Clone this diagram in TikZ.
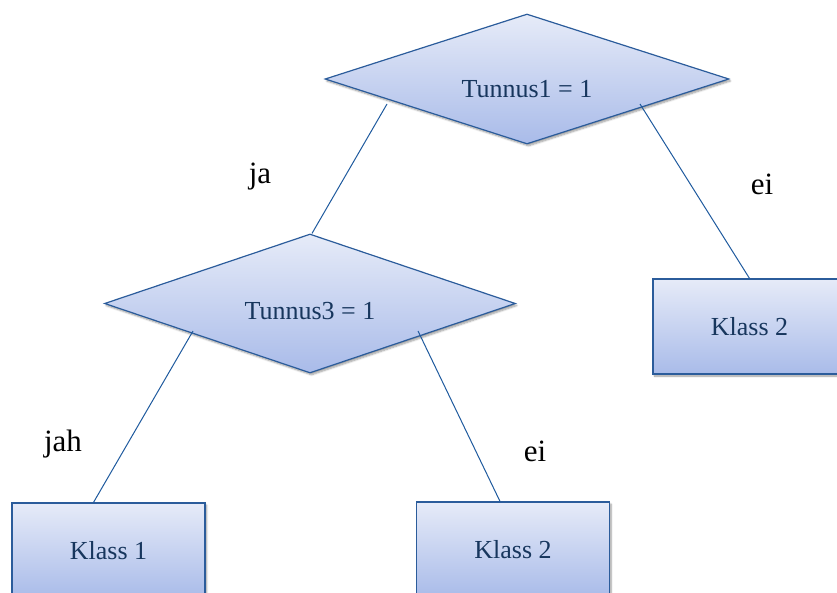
\documentclass[tikz,border=0pt]{standalone}
\usepackage{fontspec}
\setmainfont{Liberation Serif}
\usetikzlibrary{shapes.geometric,shadows.blur,calc}
\definecolor{txtblue}{HTML}{17365D}
\definecolor{edgeblue}{HTML}{2B5C9B}
\definecolor{linkblue}{HTML}{1F5A9E}
\definecolor{filltop}{HTML}{E6EBF8}
\definecolor{fillbot}{HTML}{A9BBE9}
\tikzset{
  x=1pt, y=-1pt,
  shapebase/.style={draw=edgeblue, line width=1.2pt, top color=filltop, bottom color=fillbot,
    text=txtblue, font=\fontsize{26}{30}\selectfont, inner sep=0pt,
    blur shadow={shadow xshift=1.5pt, shadow yshift=-2pt, shadow blur steps=6, shadow opacity=40}},
  test/.style={shapebase, diamond},
  leaf/.style={shapebase, rectangle, minimum width=193pt, minimum height=95pt},
  link/.style={draw=linkblue, line width=1pt},
  edgelabel/.style={font=\fontsize{31}{36}\selectfont, text=black, anchor=base, inner sep=0pt}
}
\begin{document}
\begin{tikzpicture}
\useasboundingbox (0,0) rectangle (837,592);
\begin{scope}
\clip (0,0) rectangle (837,592);
% decision nodes (text sits a little below the centre)
\node[test, aspect=3.1, minimum width=404pt, minimum height=130pt] (d1) at (527,79)
  {\smash{\raisebox{-18pt}{Tunnus1 = 1}}};
\node[test, aspect=2.96, minimum width=411pt, minimum height=139pt] (d2) at (310,303.5)
  {\smash{\raisebox{-16pt}{Tunnus3 = 1}}};
% leaves
\node[leaf] (k2a) at (749.5,326.5) {Klass 2};
\node[leaf] (k1) at (108.5,550.5) {Klass 1};
\node[leaf] (k2b) at (513,549.5) {Klass 2};
% branches
\draw[link] ($(d1.center)+(-140,25)$) -- ($(d2.north)+(2,0)$);
\draw[link] ($(d1.center)+(113,25)$) -- (k2a.north);
\draw[link] ($(d2.center)+(-117,27.5)$) -- ($(k1.north)+(-15,0)$);
\draw[link] ($(d2.center)+(108,27.5)$) -- ($(k2b.north)+(-13,0)$);
% branch labels
\node[edgelabel] (l1) at (260,183) {ja};
\node[edgelabel] (l2) at (762,194) {ei};
\node[edgelabel] (l3) at (63,451) {jah};
\node[edgelabel] (l4) at (535,461) {ei};
\end{scope}
\end{tikzpicture}
\end{document}
